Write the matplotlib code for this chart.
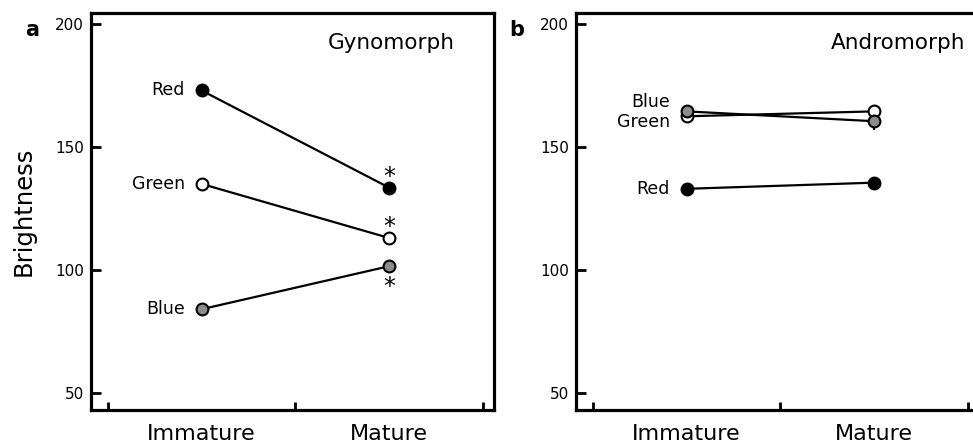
import numpy as np
import matplotlib
matplotlib.use('Agg')
import matplotlib.pyplot as plt

# ===== DATA =====
stages = ['Immature', 'Mature']
colours = ['Red', 'Green', 'Blue']

gyno_red = [173, 133.5]
gyno_green = [135, 113]
gyno_blue = [84, 101.5]
gyno_err = [[0.8, 2.0], [0.8, 1.5], [0.8, 1.5]]

andro_red = [133, 135.5]
andro_green = [162.5, 164.5]
andro_blue = [164.5, 160.5]
andro_err = [[1.0, 2.0], [1.0, 1.5], [1.5, 3.5]]

# asterisk positions (mature): above, above, below
gyno_sig = ['above', 'above', 'below']

FILL = {'Red': 'black', 'Green': 'white', 'Blue': '#8c8c8c'}
X = np.array([0.5, 1.5])


def style_axes(ax):
    ax.set_xlim(-0.09, 2.06)
    ax.set_ylim(43, 204.5)
    ax.set_yticks([50, 100, 150, 200])
    ax.set_xticks([0, 1, 2])
    ax.set_xticklabels([])
    for s in ax.spines.values():
        s.set_linewidth(2.3)
    ax.tick_params(axis='y', direction='in', length=7, width=2, labelsize=11, pad=5)
    ax.tick_params(axis='x', direction='in', length=6, width=2)
    for x, lab in zip(X, stages):
        ax.text(x, -0.036, lab, transform=ax.get_xaxis_transform(),
                ha='center', va='top', fontsize=16)


def draw_panel(ax, series, errs, title, letter, labels_pos, title_x):
    for (name, vals), err in zip(series, errs):
        ax.errorbar(X, vals, yerr=err, color='black', lw=1.6, capsize=0,
                    elinewidth=1.5, marker='o', ms=8.5, mfc=FILL[name],
                    mec='black', mew=1.5, zorder=3)
    for name, y in labels_pos:
        ax.text(X[0] - 0.09, y, name, ha='right', va='center', fontsize=12.5)
    ax.text(title_x, 0.924, title, transform=ax.transAxes, ha='center',
            va='center', fontsize=15.5)
    ax.text(-0.146, 0.942, letter, transform=ax.transAxes, ha='center',
            va='baseline', fontsize=15, fontweight='bold')


fig = plt.figure(figsize=(9.73, 4.46), dpi=100)
ax1 = fig.add_axes([0.0935, 0.0807, 0.4142, 0.890])
ax2 = fig.add_axes([0.592, 0.0807, 0.4142, 0.890])

style_axes(ax1)
style_axes(ax2)

series_a = list(zip(colours, [gyno_red, gyno_green, gyno_blue]))
draw_panel(ax1, series_a, gyno_err, 'Gynomorph', 'a',
           [(c, v[0]) for c, v in series_a], 0.744)
for (c, v), pos in zip(series_a, gyno_sig):
    dy = 4.5 if pos == 'above' else -8.5
    ax1.text(X[1], v[1] + dy, '*', ha='center', va='center', fontsize=17)

series_b = list(zip(colours, [andro_red, andro_green, andro_blue]))
draw_panel(ax2, series_b, andro_err, 'Andromorph', 'b',
           [('Red', andro_red[0]), ('Blue', 168.3), ('Green', 160)], 0.80)

ax1.set_ylabel('Brightness', fontsize=17.5, labelpad=14)

fig.savefig('out.png', dpi=100)
